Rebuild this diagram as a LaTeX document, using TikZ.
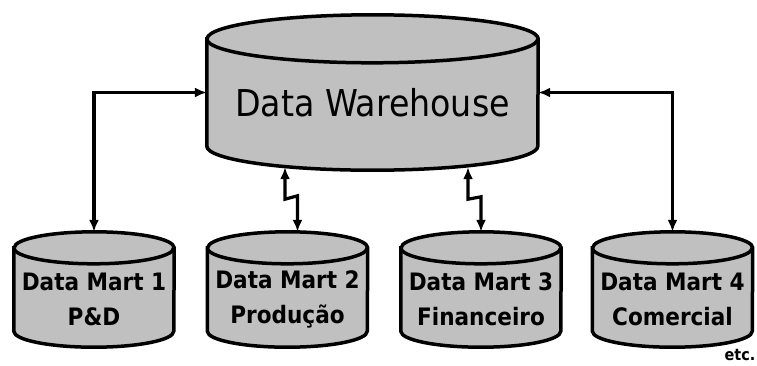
\documentclass[tikz,border=0pt]{standalone}
\usepackage{fontspec}
\setmainfont{DejaVu Sans Condensed}
\usetikzlibrary{arrows.meta,positioning,calc}
\definecolor{Silver}{HTML}{C0C0C0}
% drum round a box node: name, x radius, y radius
\newcommand{\drum}[3]{%
  \filldraw[drumline]([yshift=-#3]#1.north west)--([yshift=#3]#1.south west)
    arc[start angle=180,end angle=360,x radius=#2,y radius=#3]
    --([yshift=-#3]#1.north east)
    arc[start angle=0,end angle=180,x radius=#2,y radius=#3]--cycle;
  \draw[drumline]([yshift=-#3]#1.north west)
    arc[start angle=180,end angle=360,x radius=#2,y radius=#3];}

\begin{document}
\begin{tikzpicture}[x=1pt,y=-1pt,>={Latex[length=12pt,width=10pt]},
  drumline/.style={fill=Silver,draw=black,line width=3.5pt},
  dwbox/.style={minimum width=331pt,minimum height=155pt,inner sep=0pt},
  martbox/.style={minimum width=160pt,minimum height=115pt,inner sep=0pt},
  dwtext/.style={font=\fontsize{37}{40}\selectfont},
  marttext/.style={font=\bfseries\fontsize{24}{35}\selectfont,align=center},
  conn/.style={<->,line width=3.2pt}]
\useasboundingbox(0,0)rectangle(757,365);
% warehouse and marts
\node[dwbox](dw)at(372.5,92.5){};
\node[martbox](dm1)at(94,289.5){};
\node[martbox](dm2)at(287.5,289.5){};
\node[martbox](dm3)at(481,289.5){};
\node[martbox](dm4)at(672.5,289.5){};
\drum{dw}{165.5pt}{24pt}
\drum{dm1}{80pt}{16pt}\drum{dm2}{80pt}{16pt}
\drum{dm3}{80pt}{16pt}\drum{dm4}{80pt}{16pt}
\node[dwtext](dwlbl)at([yshift=-10pt]dw.center){Data Warehouse};
\node[marttext](dm1lbl)at([yshift=-10pt]dm1.center){Data Mart 1\\P\&D};
\node[marttext](dm2lbl)at([yshift=-10pt]dm2.center){Data Mart 2\\Produção};
\node[marttext](dm3lbl)at([yshift=-10pt]dm3.center){Data Mart 3\\Financeiro};
\node[marttext](dm4lbl)at([yshift=-10pt]dm4.center){Data Mart 4\\Comercial};
% links
\draw[conn](dm1.north)|-(dw.west);
\draw[conn](dm4.north)|-(dw.east);
\draw[conn]($(dw.south)+(-87.5,-3)$)--++(0,32)--($(dm2.north)+(10,-36)$)--($(dm2.north)+(10,0)$);
\draw[conn]($(dw.south)+(95.5,-3)$)--++(0,32)--($(dm3.north)+(0,-35)$)--(dm3.north);
\node[font=\bfseries\fontsize{16}{17}\selectfont](etc)at(740,355){etc.};
\end{tikzpicture}
\end{document}
